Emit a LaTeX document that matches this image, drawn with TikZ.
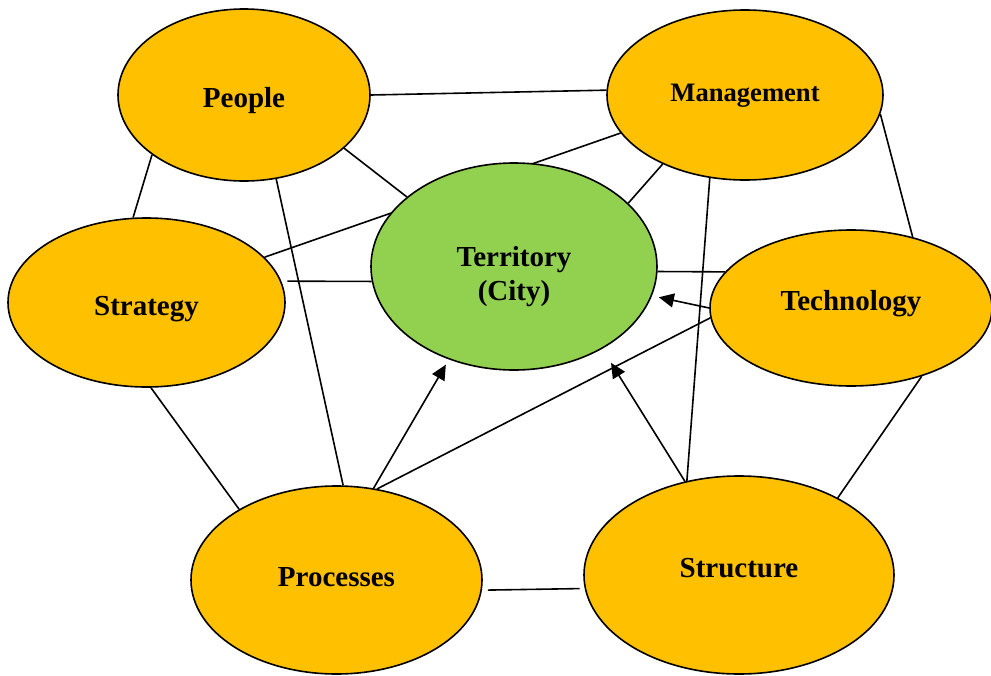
\documentclass[tikz,border=0pt]{standalone}
\usepackage{fontspec}
\setmainfont{Liberation Serif}
\usepackage{tikz}
\usetikzlibrary{shapes.geometric,arrows.meta,backgrounds}
\definecolor{colorpart}{RGB}{255,192,0}
\definecolor{colorcity}{RGB}{146,208,80}
\definecolor{colorline}{RGB}{0,0,0}

\begin{document}
\begin{tikzpicture}[
    x=1pt, y=-1pt,
    font={\fontsize{29}{34}\selectfont\bfseries},
    base/.style={ellipse,draw=colorline,line width=1.6pt,inner sep=0pt,align=center},
    part/.style={base,fill=colorpart},
    lift/.style={text height=#1,text depth=0pt},
    link/.style={line width=1.6pt,draw=colorline},
    push/.style={link,-{Triangle[length=15pt,width=14pt]}},
]
    \useasboundingbox (0,0) rectangle (991,675);

    \node[part,minimum width=252pt,minimum height=172pt,lift=24pt] at (244,95) (people) {People};
    \node[part,minimum width=276pt,minimum height=170pt,lift=13pt,
          font={\fontsize{26.6}{32}\selectfont\bfseries}] at (745,95) (management) {Management};
    \node[part,minimum width=277pt,minimum height=169pt,lift=25pt] at (146.5,302.5) (strategy) {Strategy};
    \node[part,minimum width=282pt,minimum height=156pt,lift=4pt] at (851,308) (technology) {Technology};
    \node[part,minimum width=291pt,minimum height=188pt,lift=12pt] at (336.5,580) (processes) {Processes};
    \node[part,minimum width=310pt,minimum height=198pt,lift=4pt] at (739,575) (structure) {Structure};
    \node[base,fill=colorcity,minimum width=286pt,minimum height=207pt,lift=67pt] at (514,266.5) (territory) {Territory\\(City)};

    \begin{scope}[on background layer]
    \draw[link] (people.0.5) -- (management.178.3);
    \draw[link] (people.-28.6) -- (territory.147.4);
    \draw[link] (people.213) -- (strategy.99.1);
    \draw[link] (people.-69.5) -- (processes.86.7);
    \draw[link] (strategy.21.2) -- (management.197.7);
    \draw[link] (territory.29.1) -- (management.220.1);
    \draw[link] (management.247.1) -- (structure.119.2);
    \draw[link] (management.-8.2) -- (technology.49.3);
    \draw[link,shorten <=6pt] (strategy.9.6) -- (territory.186.2);
    \draw[link] (territory.-2.6) -- (technology.164.5);
    \draw[push,shorten >=7pt] (technology.180) -- (territory.-12);
    \draw[link] (technology.184.1) -- (processes.66.2);
    \draw[link] (strategy.-87.6) -- (processes.144.2);
    \draw[push,shorten >=6pt] (processes.68.4) -- (territory.235.1);
    \draw[push,shorten >=16.5pt] (structure.120.3) -- (territory.-43.8);
    \draw[link] (technology.-44.6) -- (structure.38.9);
    \draw[link,shorten <=6pt,shorten >=5pt] (processes.-4.3) -- (structure.185.9);
    \end{scope}

\end{tikzpicture}
\end{document}
